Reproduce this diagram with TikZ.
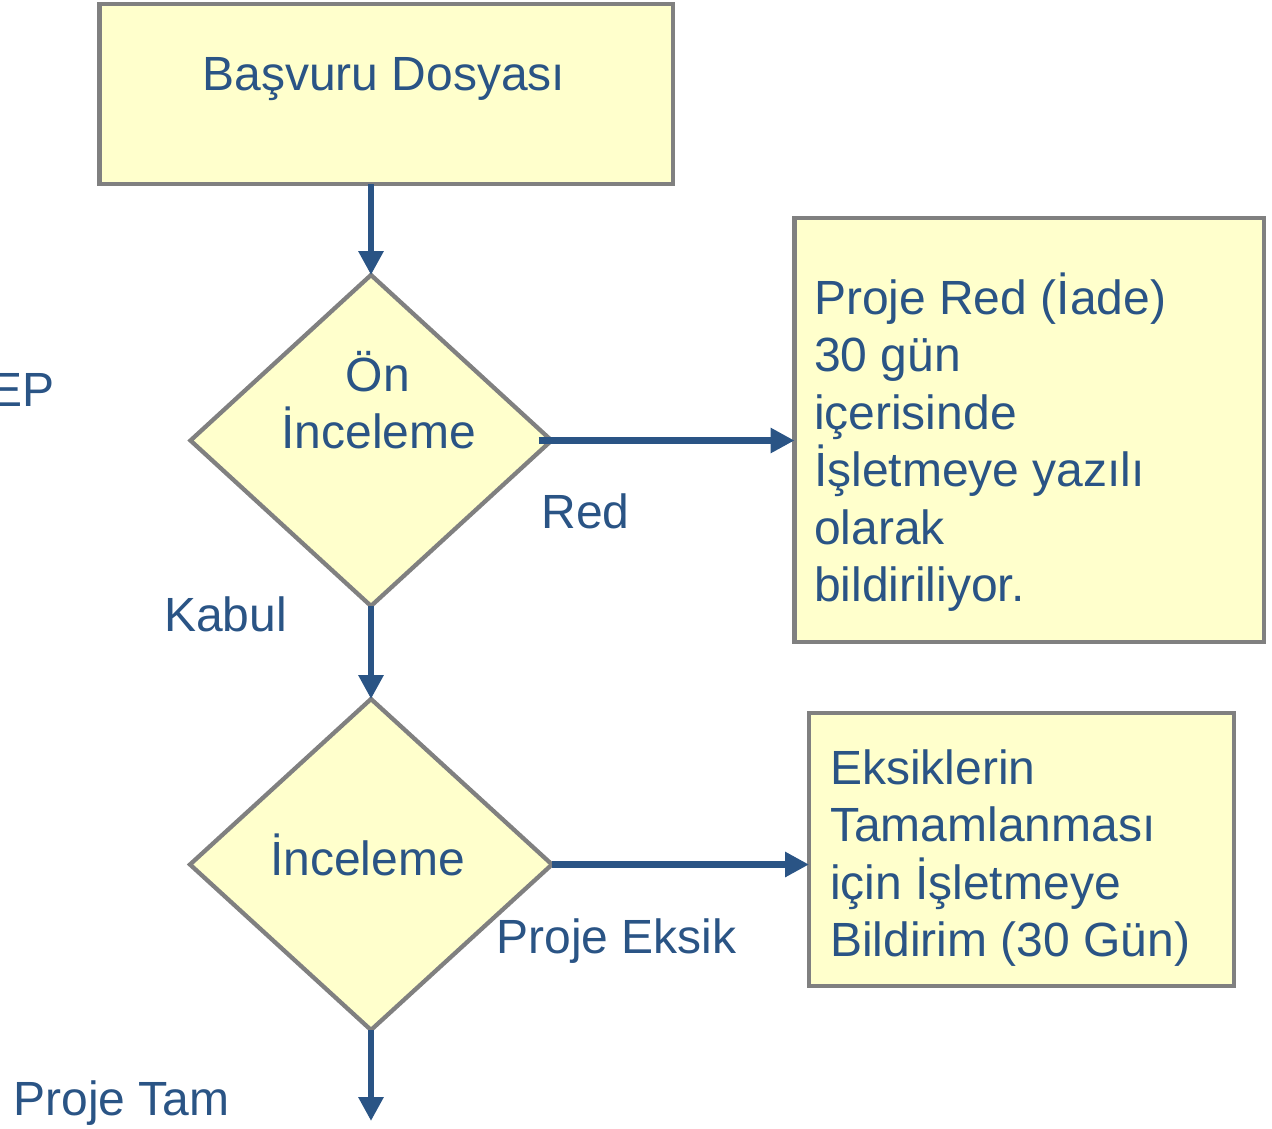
\documentclass[tikz,border=0pt]{standalone}
\usepackage{fontspec}
\setmainfont{Liberation Sans}
\usetikzlibrary{arrows.meta,shapes.geometric}
\definecolor{ink}{HTML}{2A5485}
\definecolor{boxfill}{HTML}{FFFFCC}
\definecolor{edge}{HTML}{808080}
\begin{document}
\begin{tikzpicture}[x=1pt,y=-1pt,
  every node/.style={inner sep=0pt, outer sep=0pt},
  txt/.style={text=ink, font=\fontsize{48}{57.5}\selectfont},
  procbox/.style={draw=edge, fill=boxfill, line width=4.3pt, rectangle},
  decision/.style={draw=edge, fill=boxfill, line width=4.3pt, diamond},
  flow/.style={draw=ink, line width=6.5pt, -{Triangle[width=24pt,length=24pt]}}
]
\useasboundingbox (0,0) rectangle (1272,1128);

% process boxes
\node[procbox, minimum width=573.5pt, minimum height=180.3pt] (b1) at (386.25,93.85) {};
\node[procbox, minimum width=469.5pt, minimum height=424pt] (b2) at (1029.25,430) {};
\node[procbox, minimum width=425pt, minimum height=273pt] (b3) at (1021.5,849.5) {};

% decisions
\node[decision, minimum width=361pt, minimum height=331pt] (d1) at (371,440.5) {};
\node[decision, minimum width=362pt, minimum height=331pt] (d2) at (371,864.5) {};

% connectors
\coordinate (tamEnd) at (371,1121);
\draw[flow] (b1.south -| d1.north) -- (d1.north);
\draw[flow] ([xshift=-13pt]d1.east) -- (d1.east -| b2.west);
\draw[flow] (d1.south) -- (d2.north);
\draw[flow] (d2.east) -- (d2.east -| b3.west);
\draw[flow] (d2.south) -- (tamEnd);

% texts
\node[txt, anchor=base] (tb1) at (384,90.5) {Başvuru Dosyası};
\node[txt, anchor=base] (ton) at (378,391.7) {Ön};
\node[txt, anchor=base] (tinc1) at (379,448) {İnceleme};
\node[txt, anchor=base] (tinc2) at (367.5,875) {İnceleme};
\node[txt, anchor=base west, align=left] (tb2) at (814,601.7)
  {Proje Red (İade)\\30 gün\\içerisinde\\İşletmeye yazılı\\olarak\\bildiriliyor.};
\node[txt, anchor=base west, align=left] (tb3) at (830,956.7)
  {Eksiklerin\\Tamamlanması\\için İşletmeye\\Bildirim (30 Gün)};
\node[txt, anchor=base west] (lred) at (541.5,528) {Red};
\node[txt, anchor=base west] (lkabul) at (164,631.7) {Kabul};
\node[txt, anchor=base west] (leksik) at (496.5,953) {Proje Eksik};
\node[txt, anchor=base west] (ltam) at (13.5,1115) {Proje Tam};
\node[txt, anchor=base east] (lep) at (55,406) {EP};
\end{tikzpicture}
\end{document}
